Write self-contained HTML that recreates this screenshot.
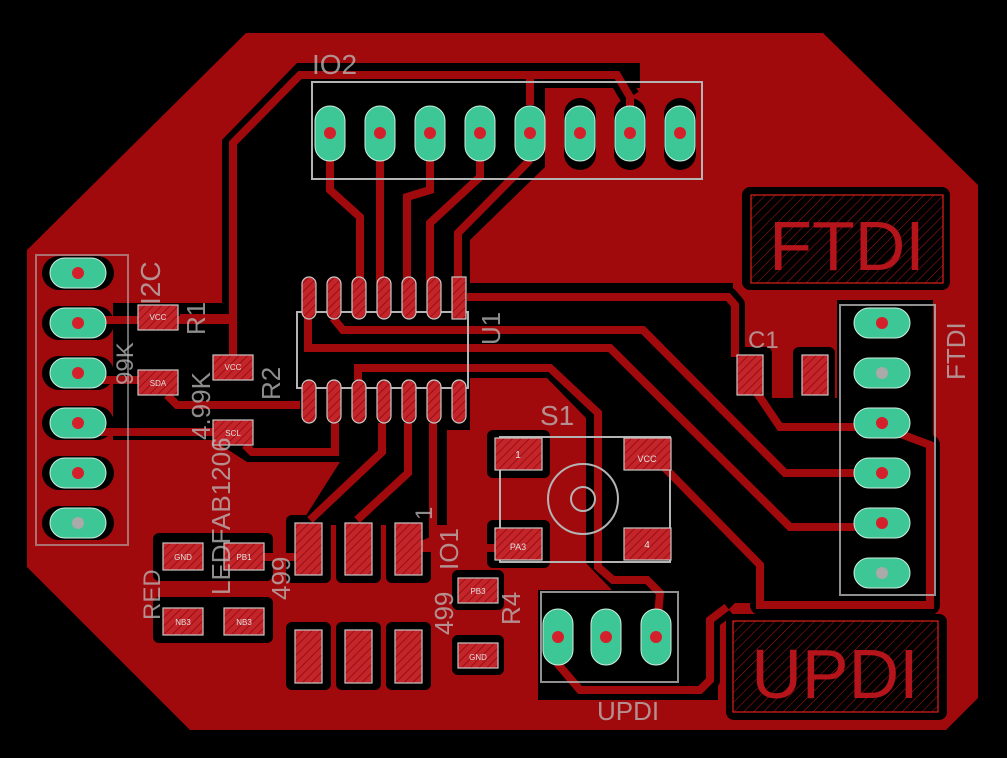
<!DOCTYPE html>
<html><head><meta charset="utf-8"><style>
html,body{margin:0;padding:0;background:#000;}
svg{display:block;font-family:"Liberation Sans",sans-serif;}
</style></head><body>
<svg width="1007" height="758" viewBox="0 0 1007 758" xmlns="http://www.w3.org/2000/svg">
<defs>
<pattern id="h" width="6" height="6" patternUnits="userSpaceOnUse" patternTransform="rotate(45)">
<rect width="6" height="6" fill="#c4252a"/><line x1="0" y1="0" x2="0" y2="6" stroke="#9a0e12" stroke-width="2"/>
</pattern>
<pattern id="h2" width="7" height="7" patternUnits="userSpaceOnUse" patternTransform="rotate(45)">
<rect width="7" height="7" fill="#000"/><line x1="0" y1="0" x2="0" y2="7" stroke="#b01414" stroke-width="1"/>
</pattern>
</defs>
<rect width="1007" height="758" fill="#000"/>
<!-- board pour -->
<polygon points="246,33 823,33 978,185 978,698 946,730 190,730 27,567 27,250" fill="#a10a0c"/>
<!-- main black clearance -->
<polygon points="222,140 297,63 640,63 640,88 545,88 545,167 470,240 470,283 733,283 733,398 837,398 837,300 933,300 933,603 735,603 718,620 718,700 538,700 538,590 612,590 586,563 586,418 547,378 470,378 470,430 447,430 447,525 300,525 340,462 247,462 213,440 113,440 113,303 222,303" fill="#000"/>
<!-- clearance ovals: IO2 pins 6-8, left header, -->
<g fill="#000">
<rect x="564" y="98" width="32" height="72" rx="16"/><rect x="614" y="98" width="32" height="72" rx="16"/><rect x="664" y="98" width="32" height="72" rx="16"/>
<rect x="42" y="256" width="72" height="34" rx="17"/><rect x="42" y="306" width="72" height="34" rx="17"/><rect x="42" y="356" width="72" height="34" rx="17"/>
<rect x="42" y="406" width="72" height="34" rx="17"/><rect x="42" y="456" width="72" height="34" rx="17"/><rect x="42" y="506" width="72" height="34" rx="17"/>
<!-- label boxes -->
<rect x="742" y="187" width="208" height="103" rx="8"/>
<rect x="726" y="614" width="221" height="106" rx="8"/>
<!-- pad clearances -->
<rect x="153" y="533" width="120" height="48" rx="6"/><rect x="153" y="597" width="120" height="46" rx="6"/>
<rect x="286" y="515" width="45" height="68" rx="6"/><rect x="336" y="515" width="45" height="68" rx="6"/><rect x="386" y="515" width="45" height="68" rx="6"/>
<rect x="286" y="622" width="45" height="68" rx="6"/><rect x="336" y="622" width="45" height="68" rx="6"/><rect x="386" y="622" width="45" height="68" rx="6"/>
<rect x="452" y="570" width="52" height="40" rx="6"/><rect x="452" y="635" width="52" height="40" rx="6"/>
<rect x="487" y="430" width="63" height="48" rx="6"/><rect x="487" y="520" width="63" height="48" rx="6"/>
<rect x="793" y="347" width="42" height="55" rx="6"/><rect x="730" y="347" width="42" height="55" rx="6"/>
</g>
<!-- traces: black halo -->
<g fill="none" stroke="#000" stroke-width="20" stroke-linejoin="round">
<polyline points="233,320 233,143 300,75 617,75 630,97"/>
<polyline points="467,297 728,297 735,305 735,357"/>
<polyline points="757,393 780,427 882,427"/>
<polyline points="882,427 930,445 930,605 760,605 760,565 665,468"/>
<polyline points="727,607 710,620 710,680 700,690 580,690 557,663"/>
</g>
<!-- traces red -->
<g fill="none" stroke="#a10a0c" stroke-width="8" stroke-linejoin="miter">
<polyline points="330,160 330,190 360,217 360,282"/>
<polyline points="380,160 380,282"/>
<polyline points="430,160 430,190 407,197 407,282"/>
<polyline points="480,160 480,177 430,223 430,282"/>
<polyline points="530,160 458,233 458,282"/>
<polyline points="530,78 530,105"/>
<polyline points="233,355 233,143 300,75 617,75 630,97 630,120"/>
<polyline points="100,320 233,320"/>
<polyline points="100,380 138,380"/>
<polyline points="167,395 177,405 300,405"/>
<polyline points="100,432 213,432"/>
<polyline points="245,445 252,452 335,452 335,423"/>
<polyline points="382,423 382,452 310,520"/>
<polyline points="408,423 408,473 357,520"/>
<polyline points="433,423 433,540 422,545"/>
<polyline points="422,548 495,548"/>
<polyline points="263,557 295,557"/>
<polyline points="467,297 728,297 735,305 735,357"/>
<polyline points="333,318 343,330 643,330 785,473 882,473"/>
<polyline points="308,318 308,348 610,348 790,527 882,527"/>
<polyline points="358,380 358,368 550,368 598,413 598,567 613,580 647,580 660,593 656,637"/>
<polyline points="757,393 780,427 882,427"/>
<polyline points="882,427 930,445 930,605 760,605 760,565 665,468"/>
<polyline points="727,607 710,620 710,680 700,690 580,690 557,663"/>
<polyline points="180,318 233,318"/>
</g>
<!-- label boxes inner -->
<rect x="751" y="195" width="192" height="88" fill="url(#h2)" stroke="#e0201a" stroke-width="1.2"/>
<text x="847" y="270" font-size="70" fill="#b5141a" text-anchor="middle">FTDI</text>
<rect x="733" y="621" width="205" height="91" fill="url(#h2)" stroke="#e0201a" stroke-width="1.2"/>
<text x="835" y="698" font-size="70" fill="#b5141a" text-anchor="middle">UPDI</text>
<!-- gray outlines -->
<g fill="none" stroke="#b4b4b4" stroke-width="2">
<rect x="312" y="82" width="390" height="97"/>
<rect x="297" y="312" width="171" height="76"/>
<rect x="36" y="255" width="92" height="290" opacity="0.6"/>
<rect x="840" y="305" width="95" height="290" opacity="0.8"/>
<rect x="541" y="592" width="137" height="90" opacity="0.8"/>
<rect x="500" y="437" width="170" height="125"/>
<circle cx="583" cy="499" r="35"/>
<circle cx="583" cy="499" r="12"/>
</g>
<!-- header pads (green ovals) -->
<g fill="#3ec796" stroke="#cfeee0" stroke-width="1">
<rect x="315" y="106" width="30" height="55" rx="15"/><rect x="365" y="106" width="30" height="55" rx="15"/><rect x="415" y="106" width="30" height="55" rx="15"/><rect x="465" y="106" width="30" height="55" rx="15"/>
<rect x="515" y="106" width="30" height="55" rx="15"/><rect x="565" y="106" width="30" height="55" rx="15"/><rect x="615" y="106" width="30" height="55" rx="15"/><rect x="665" y="106" width="30" height="55" rx="15"/>
<rect x="50" y="258" width="56" height="30" rx="15"/><rect x="50" y="308" width="56" height="30" rx="15"/><rect x="50" y="358" width="56" height="30" rx="15"/>
<rect x="50" y="408" width="56" height="30" rx="15"/><rect x="50" y="458" width="56" height="30" rx="15"/><rect x="50" y="508" width="56" height="30" rx="15"/>
<rect x="854" y="308" width="56" height="30" rx="15"/><rect x="854" y="358" width="56" height="30" rx="15"/><rect x="854" y="408" width="56" height="30" rx="15"/>
<rect x="854" y="458" width="56" height="30" rx="15"/><rect x="854" y="508" width="56" height="30" rx="15"/><rect x="854" y="558" width="56" height="30" rx="15"/>
<rect x="543" y="609" width="30" height="56" rx="15"/><rect x="591" y="609" width="30" height="56" rx="15"/><rect x="641" y="609" width="30" height="56" rx="15"/>
</g>
<g fill="#d4202a">
<circle cx="330" cy="133" r="6"/><circle cx="380" cy="133" r="6"/><circle cx="430" cy="133" r="6"/><circle cx="480" cy="133" r="6"/>
<circle cx="530" cy="133" r="6"/><circle cx="580" cy="133" r="6"/><circle cx="630" cy="133" r="6"/><circle cx="680" cy="133" r="6"/>
<circle cx="78" cy="273" r="6"/><circle cx="78" cy="323" r="6"/><circle cx="78" cy="373" r="6"/><circle cx="78" cy="423" r="6"/><circle cx="78" cy="473" r="6"/>
<circle cx="882" cy="323" r="6"/><circle cx="882" cy="423" r="6"/><circle cx="882" cy="473" r="6"/><circle cx="882" cy="523" r="6"/>
<circle cx="558" cy="637" r="6"/><circle cx="606" cy="637" r="6"/><circle cx="656" cy="637" r="6"/>
</g>
<g fill="#aaa"><circle cx="78" cy="523" r="6"/><circle cx="882" cy="373" r="6"/><circle cx="882" cy="573" r="6"/></g>
<!-- SMD pads -->
<g fill="url(#h)" stroke="#c8c8c8" stroke-width="1.2">
<rect x="302" y="277" width="14" height="42" rx="7"/><rect x="327" y="277" width="14" height="42" rx="7"/><rect x="352" y="277" width="14" height="42" rx="7"/><rect x="377" y="277" width="14" height="42" rx="7"/><rect x="402" y="277" width="14" height="42" rx="7"/><rect x="427" y="277" width="14" height="42" rx="7"/><rect x="452" y="277" width="14" height="42"/>
<rect x="302" y="380" width="14" height="43" rx="7"/><rect x="327" y="380" width="14" height="43" rx="7"/><rect x="352" y="380" width="14" height="43" rx="7"/><rect x="377" y="380" width="14" height="43" rx="7"/><rect x="402" y="380" width="14" height="43" rx="7"/><rect x="427" y="380" width="14" height="43" rx="7"/><rect x="452" y="380" width="14" height="43" rx="7"/>
<rect x="138" y="305" width="40" height="25"/><rect x="138" y="370" width="40" height="25"/>
<rect x="213" y="355" width="40" height="25"/><rect x="213" y="420" width="40" height="25"/>
<rect x="495" y="438" width="47" height="32"/><rect x="624" y="438" width="47" height="32"/><rect x="495" y="528" width="47" height="32"/><rect x="624" y="528" width="47" height="32"/>
<rect x="737" y="355" width="26" height="40"/><rect x="802" y="355" width="26" height="40"/>
<rect x="295" y="523" width="27" height="52"/><rect x="345" y="523" width="27" height="52"/><rect x="395" y="523" width="27" height="52"/>
<rect x="295" y="630" width="27" height="53"/><rect x="345" y="630" width="27" height="53"/><rect x="395" y="630" width="27" height="53"/>
<rect x="163" y="543" width="40" height="27"/><rect x="224" y="543" width="40" height="27"/><rect x="163" y="608" width="40" height="27"/><rect x="224" y="608" width="40" height="27"/>
<rect x="458" y="578" width="40" height="25"/><rect x="458" y="643" width="40" height="25"/>
</g>
<g fill="#e0e0e0" font-size="8" text-anchor="middle">
<text x="158" y="320">VCC</text><text x="158" y="386">SDA</text><text x="233" y="370">VCC</text><text x="233" y="436">SCL</text>
<text x="518" y="458" font-size="10">1</text><text x="647" y="462" font-size="9">VCC</text><text x="518" y="550" font-size="9">PA3</text><text x="647" y="548" font-size="10">4</text>
<text x="183" y="560">GND</text><text x="244" y="560">PB1</text><text x="183" y="625">NB3</text><text x="244" y="625">NB3</text>
<text x="478" y="594">PB3</text><text x="478" y="660">GND</text>
</g>
<!-- silkscreen labels -->
<g fill="#bdbdbd" opacity="0.75">
<text x="312" y="74" font-size="28">IO2</text>
<text x="540" y="425" font-size="28">S1</text>
<text x="748" y="348" font-size="24">C1</text>
<text x="597" y="720" font-size="26">UPDI</text>
<text font-size="28" transform="translate(160,305) rotate(-90)">I2C</text>
<text font-size="24" transform="translate(133,385) rotate(-90)">99K</text>
<text font-size="26" transform="translate(205,335) rotate(-90)">R1</text>
<text font-size="26" transform="translate(210,440) rotate(-90)">4.99K</text>
<text font-size="26" transform="translate(280,400) rotate(-90)">R2</text>
<text font-size="26" transform="translate(230,595) rotate(-90)">LEDFAB1206</text>
<text font-size="24" transform="translate(160,620) rotate(-90)">RED</text>
<text font-size="26" transform="translate(290,600) rotate(-90)">499</text>
<text font-size="26" transform="translate(453,635) rotate(-90)">499</text>
<text font-size="26" transform="translate(520,625) rotate(-90)">R4</text>
<text font-size="24" transform="translate(432,520) rotate(-90)">1</text>
<text font-size="26" transform="translate(458,570) rotate(-90)">IO1</text>
<text font-size="26" transform="translate(500,345) rotate(-90)">U1</text>
<text font-size="26" transform="translate(965,380) rotate(-90)">FTDI</text>
</g>
</svg>
</body></html>
